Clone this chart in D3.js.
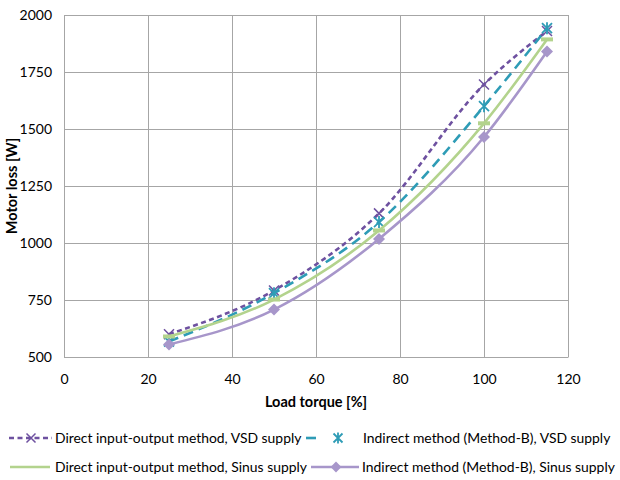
<!DOCTYPE html>
<html>
<head>
<meta charset="utf-8">
<script src="https://cdn.jsdelivr.net/npm/d3@7"></script>
<style>
html,body{margin:0;padding:0;background:#fff;}
text{font-family:Lato,"Open Sans",sans-serif;fill:#000;}
</style>
</head>
<body>
<svg id="chart" width="620" height="480"></svg>
<script>
const loadTorque = [25, 50, 75, 100, 115];
const directVSD = [600, 792, 1130, 1695, 1930];
const indirectVSD = [568, 780, 1092, 1600, 1942];
const directSinus = [590, 752, 1055, 1525, 1893];
const indirectSinus = [555, 708, 1018, 1465, 1840];
const xTicks = [0, 20, 40, 60, 80, 100, 120];
const yTicks = [500, 750, 1000, 1250, 1500, 1750, 2000];
const seriesNames = [
  "Direct input-output method, VSD supply",
  "Indirect method (Method-B), VSD supply",
  "Direct input-output method, Sinus supply",
  "Indirect method (Method-B), Sinus supply"
];

const svg = d3.select("#chart");
const x = d3.scaleLinear().domain([0, 120]).range([64, 568]);
const y = d3.scaleLinear().domain([500, 2000]).range([357, 15]);

const styles = [
  {color:"#6E51A0", dash:"5,3.5", width:2.6, marker:"x"},
  {color:"#2E9CB6", dash:"10,6", width:2.6, marker:"star"},
  {color:"#B3D38D", dash:null, width:2.6, marker:"dash"},
  {color:"#A796CA", dash:null, width:2.6, marker:"diamond"}
];
const values = [directVSD, indirectVSD, directSinus, indirectSinus];

// grid
const grid = svg.append("g");
grid.selectAll("line.v").data(xTicks).join("line")
  .attr("x1", d => x(d)).attr("x2", d => x(d))
  .attr("y1", y(2000)).attr("y2", y(500))
  .attr("stroke", "#A6A6A6").attr("stroke-width", 1).attr("shape-rendering","crispEdges");
grid.selectAll("line.h").data(yTicks).join("line")
  .attr("y1", d => y(d)).attr("y2", d => y(d))
  .attr("x1", x(0)).attr("x2", x(120))
  .attr("stroke", "#A6A6A6").attr("stroke-width", 1).attr("shape-rendering","crispEdges");

// axes
const xAxis = d3.axisBottom(x).tickValues(xTicks).tickSize(0).tickPadding(17).tickFormat(d3.format("d"));
const gx = svg.append("g").attr("transform", `translate(0,${y(500)})`).call(xAxis);
gx.select(".domain").attr("stroke", "#A6A6A6");
gx.selectAll("text").attr("font-size", 14).attr("font-family", "Lato");
const yAxis = d3.axisLeft(y).tickValues(yTicks).tickSize(0).tickPadding(12).tickFormat(d3.format("d"));
const gy = svg.append("g").attr("transform", `translate(${x(0)},0)`).call(yAxis);
gy.select(".domain").attr("stroke", "#A6A6A6");
gy.selectAll("text").attr("font-size", 14).attr("font-family", "Lato");

svg.append("text").attr("x", 316).attr("y", 407).attr("text-anchor", "middle")
  .attr("font-size", 14.5).attr("font-weight", "bold").text("Load torque [%]");
svg.append("text").attr("transform", "translate(17,186) rotate(-90)")
  .attr("text-anchor", "middle").attr("font-size", 14.5).attr("font-weight", "bold")
  .text("Motor loss [W]");

function drawMarker(g, type, cx, cy, color, s) {
  s = s || 1;
  if (type === "x") {
    const r = 5 * s;
    g.append("path").attr("d", `M${cx-r},${cy-r}L${cx+r},${cy+r}M${cx-r},${cy+r}L${cx+r},${cy-r}`)
      .attr("stroke", color).attr("stroke-width", 1.5).attr("fill", "none");
  } else if (type === "star") {
    const r = 5 * s;
    g.append("path").attr("d", `M${cx-r},${cy-r}L${cx+r},${cy+r}M${cx-r},${cy+r}L${cx+r},${cy-r}M${cx},${cy-r-1}L${cx},${cy+r+1}`)
      .attr("stroke", color).attr("stroke-width", 1.8).attr("fill", "none");
  } else if (type === "dash") {
    g.append("path").attr("d", `M${cx-6},${cy}L${cx+6},${cy}`)
      .attr("stroke", color).attr("stroke-width", 4).attr("fill", "none");
  } else if (type === "diamond") {
    const r = 6 * s;
    g.append("path").attr("d", `M${cx},${cy-r}L${cx+r},${cy}L${cx},${cy+r}L${cx-r},${cy}Z`)
      .attr("fill", color);
  }
}

const line = d3.line().curve(d3.curveMonotoneX)
  .x(d => x(d[0])).y(d => y(d[1]));

values.forEach((vals, i) => {
  const st = styles[i];
  const pts = loadTorque.map((t, j) => [t, vals[j]]);
  const g = svg.append("g");
  g.append("path").attr("d", line(pts)).attr("fill", "none")
    .attr("stroke", st.color).attr("stroke-width", st.width)
    .attr("stroke-dasharray", st.dash);
  pts.forEach(p => drawMarker(g, st.marker, x(p[0]), y(p[1]), st.color));
});

// legend
const legend = svg.append("g");
const legPos = [
  {lx1: 9, lx2: 52, mx: 31, tx: 55, y: 438},
  {lx1: 306, lx2: 348, mx: 338, tx: 363, y: 438},
  {lx1: 10, lx2: 50, mx: 30, tx: 55, y: 467},
  {lx1: 311, lx2: 359, mx: 336, tx: 362, y: 467}
];
seriesNames.forEach((name, i) => {
  const st = styles[i], p = legPos[i];
  const g = legend.append("g");
  if (i === 1) {
    g.append("line").attr("x1", 306).attr("x2", 316).attr("y1", p.y).attr("y2", p.y)
      .attr("stroke", st.color).attr("stroke-width", st.width);
  } else {
    g.append("line").attr("x1", p.lx1).attr("x2", p.lx2).attr("y1", p.y).attr("y2", p.y)
      .attr("stroke", st.color).attr("stroke-width", st.width).attr("stroke-dasharray", st.dash);
  }
  if (st.marker !== "dash") drawMarker(g, st.marker, p.mx, p.y, st.color, 0.9);
  g.append("text").attr("x", p.tx).attr("y", p.y).attr("dy", "0.35em")
    .attr("font-size", 13.9).text(name);
});
</script>
</body>
</html>
